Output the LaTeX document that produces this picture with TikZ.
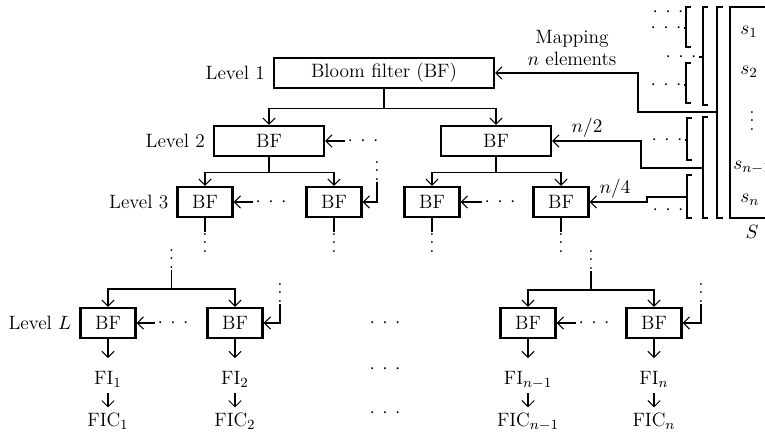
\documentclass[tikz,border=0pt]{standalone}
\usetikzlibrary{arrows.meta,positioning,calc}
\newcommand{\vdts}{\vbox{\baselineskip4.7pt\lineskiplimit0pt\hbox{.}\hbox{.}\hbox{.}}}
\newcommand{\hdts}{$\cdotp\mkern4mu\cdotp\mkern4mu\cdotp$}

\begin{document}
\begin{tikzpicture}[x=0.02cm,y=-0.02cm,
  font=\fontsize{11}{13}\selectfont,
  >={Straight Barb[length=3.5pt,width=7pt]},
  line width=0.6pt,
  bfbox/.style={draw,line width=1.2pt,minimum width=1.1cm,minimum height=0.6cm,inner sep=0pt},
  dotsh/.style={inner sep=1pt},
  dotsv/.style={inner sep=0pt,outer sep=1pt},
  fi/.style={anchor=base,text height=14pt,text depth=3.5pt,inner ysep=1pt},
  fic/.style={anchor=base,text height=9.8pt,text depth=2pt,inner ysep=1pt},
  brk/.style={line width=0.6pt},
  sbox/.style={line width=1.2pt}]
\useasboundingbox (0,0) rectangle (765,438);

% Bloom filter boxes, level by level.
\node[bfbox,minimum width=4.4cm] (bf1) at (384,73) {Bloom filter (BF)};
\node[bfbox,minimum width=2.2cm] (bf2a) at (269,141) {BF};
\node[bfbox,minimum width=2.2cm] (bf2b) at (496,141) {BF};
\node[bfbox] (bf3a) at (205,202) {BF};
\node[bfbox] (bf3b) at (334,202) {BF};
\node[bfbox] (bf3c) at (432,202) {BF};
\node[bfbox] (bf3d) at (561,202) {BF};
\node[bfbox] (bfLa) at (108,323) {BF};
\node[bfbox] (bfLb) at (235,323) {BF};
\node[bfbox] (bfLc) at (528,323) {BF};
\node[bfbox] (bfLd) at (654,323) {BF};

\node[left=1pt of bf1] (lv1) {Level 1};
\node[left=1pt of bf2a] (lv2) {Level 2};
\node[left=1pt of bf3a] (lv3) {Level 3};
\node[left=1pt of bfLa] (lvL) {Level $L$};

% Tree links.
\draw (bf1.south) -- ++(0,19) coordinate (j1);
\draw[->] (j1) -| (bf2a.north);
\draw[->] (j1) -| (bf2b.north);
\draw (bf2a.south) -- ++(0,15) coordinate (j2a);
\draw[->] (j2a) -| (bf3a.north);
\draw[->] (j2a) -| (bf3b.north);
\draw (bf2b.south) -- ++(0,15) coordinate (j2b);
\draw[->] (j2b) -| (bf3c.north);
\draw[->] (j2b) -| (bf3d.north);

% Vertical dots below level 3.
\draw (bf3a.south) -- ++(0,14) coordinate (t3a);
\draw (bf3b.south) -- ++(0,14) coordinate (t3b);
\draw (bf3c.south) -- ++(0,14) coordinate (t3c);
\draw (bf3d.south) -- ++(0,14) coordinate (t3d);
\node[dotsv,anchor=north] (v3a) at (t3a) {\vdts};
\node[dotsv,anchor=north] (v3b) at (t3b) {\vdts};
\node[dotsv,anchor=north] (v3c) at (t3c) {\vdts};
\node[dotsv,anchor=north] (v3d) at (t3d) {\vdts};

% Links into level L.
\coordinate (jLa) at (171.5,289);
\coordinate (jLb) at (591,290);
\node[dotsv,anchor=south] (vLa) at (171.5,270) {\vdts};
\node[dotsv,anchor=south] (vLb) at (591,271) {\vdts};
\draw (vLa.south) -- (jLa);
\draw (vLb.south) -- (jLb);
\draw[->] (jLa) -| (bfLa.north);
\draw[->] (jLa) -| (bfLb.north);
\draw[->] (jLb) -| (bfLc.north);
\draw[->] (jLb) -| (bfLd.north);

% Inputs from the side.
\node[dotsh] (h2) at (363,141) {\hdts};
\node[dotsh] (h3a) at (271,202) {\hdts};
\node[dotsh] (h3b) at (500,202) {\hdts};
\node[dotsh] (hLa) at (173,323) {\hdts};
\node[dotsh] (hLb) at (594,323) {\hdts};
\draw[->] (h2) -- (bf2a);
\draw[->] (h3a) -- (bf3a);
\draw[->] (h3b) -- (bf3c);
\draw[->] (hLa) -- (bfLa);
\draw[->] (hLb) -- (bfLc);

\node[dotsv,anchor=south] (v3in) at (377,182) {\vdts};
\node[dotsv,anchor=south] (vLin1) at (280,304) {\vdts};
\node[dotsv,anchor=south] (vLin2) at (701,304) {\vdts};
\draw[->] (v3in.south) |- (bf3b.east);
\draw[->] (vLin1.south) |- (bfLb.east);
\draw[->] (vLin2.south) |- (bfLd.east);

% Outputs of level L.
\node[fi] (fi1) at (108,385) {FI$_1$};
\node[fi] (fi2) at (235,385) {FI$_2$};
\node[fi] (fi3) at (528,385) {FI$_{n-1}$};
\node[fi] (fi4) at (654,385) {FI$_n$};
\node[fic] (fic1) at (108,427) {FIC$_1$};
\node[fic] (fic2) at (235,427) {FIC$_2$};
\node[fic] (fic3) at (528,427) {FIC$_{n-1}$};
\node[fic] (fic4) at (654,427) {FIC$_n$};
\draw[->] (bfLa) -- (fi1);
\draw[->] (bfLb) -- (fi2);
\draw[->] (bfLc) -- (fi3);
\draw[->] (bfLd) -- (fi4);
\draw[->] (fi1) -- (fic1);
\draw[->] (fi2) -- (fic2);
\draw[->] (fi3) -- (fic3);
\draw[->] (fi4) -- (fic4);

\node[dotsh] (mid1) at (385,323) {\hdts};
\node[dotsh] (mid2) at (385,369) {\hdts};
\node[dotsh] (mid3) at (385,413) {\hdts};

% The set S and its brackets.
\draw[sbox] (770,7) -- (730,7) -- (730,218) -- (770,218);
\node[anchor=west] (s1) at (734,32) {$s_1$};
\node[anchor=west] (s2) at (734,72) {$s_2$};
\node[dotsv] (sv) at (752,121) {\vdts};
\node[anchor=west] (s3) at (727,168) {$s_{n-1}$};
\node[anchor=west] (s4) at (734,200) {$s_n$};
\node (sl) at (752,232) {$S$};

\draw[brk] (723,7) -- (717,7) -- (717,218) -- (723,218);
\draw[brk] (708,7) -- (703,7) -- (703,105) -- (708,105);
\draw[brk] (708,117) -- (703,117) -- (703,218) -- (708,218);
\draw[brk] (691,7) -- (686,7) -- (686,47) -- (691,47);
\draw[brk] (691,63) -- (686,63) -- (686,103) -- (691,103);
\draw[brk] (692,118) -- (687,118) -- (687,160) -- (692,160);
\draw[brk] (692,175) -- (687,175) -- (687,218) -- (692,218);

\coordinate (jA) at (717,112);
\coordinate (jB1) at (703,57);
\coordinate (jB2) at (703,168);
\coordinate (jC1) at (686,28);
\coordinate (jC2) at (686,85);
\coordinate (jC3) at (687,140);
\coordinate (jC4) at (687,197);

\node[dotsh] (hC0) at (668,12) {\hdts};
\node[dotsh] (hC1) at (666,28) {\hdts};
\node[dotsh] (hB1) at (681,57) {\hdts};
\node[dotsh] (hC2) at (666,85) {\hdts};
\node[dotsh] (hC3) at (667,140) {\hdts};
\node[dotsh] (hC5) at (668,210) {\hdts};
\draw (hC1) -- (jC1);
\draw (hB1) -- (jB1);
\draw (hC2) -- (jC2);
\draw (hC3) -- (jC3);

% Mapping into the filters.
\draw[->] (jA) -- ++(-79,0) |- (bf1.east);
\draw[->] (jB2) -- ++(-62,0) |- (bf2b.east);
\draw[->] (jC4) -- ++(-40,0) |- (bf3d.east);
\node[align=center] (map) at (572,48) {Mapping\\[-1pt]$n$ elements};
\node (n2) at (587,128) {$n/2$};
\node (n4) at (615,189) {$n/4$};
\end{tikzpicture}
\end{document}
